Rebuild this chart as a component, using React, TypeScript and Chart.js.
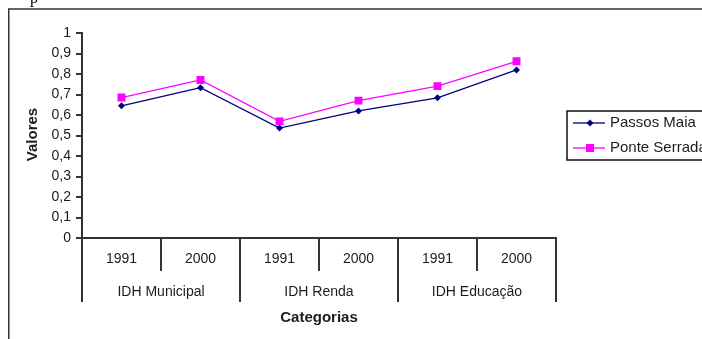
import React, { useEffect, useRef } from "react";
import { Chart, registerables } from "chart.js";

Chart.register(...registerables);

// Anos em cada categoria e os grupos de índice
const years = ["1991", "2000", "1991", "2000", "1991", "2000"];
const groups = ["IDH Municipal", "IDH Renda", "IDH Educação"];

// Valores do IDH por município
const passosMaia = [0.645, 0.733, 0.536, 0.62, 0.684, 0.82];
const ponteSerrada = [0.685, 0.771, 0.569, 0.67, 0.741, 0.862];

const seriesNames = ["Passos Maia", "Ponte Serrada"];
const yTitle = "Valores";
const xTitle = "Categorias";

const W = 760;
const H = 345;
const TEXT = "#1b1b24";
const AXIS = "#333333";
const FONT = '"Liberation Sans", Arial, sans-serif';

const fmtTick = (v: number) =>
  v === 0 || v === 1 ? String(v) : v.toFixed(1).replace(".", ",");

const decorations = {
  id: "decorations",
  afterDraw(chart: any) {
    const ctx: CanvasRenderingContext2D = chart.ctx;
    const xs = chart.scales.x;
    const { left, right, top, bottom } = chart.chartArea;
    const half = (xs.getPixelForValue(1) - xs.getPixelForValue(0)) / 2;
    ctx.save();

    // outer frame (top and left edges)
    ctx.strokeStyle = AXIS;
    ctx.lineWidth = 1.5;
    ctx.beginPath();
    ctx.moveTo(0.75, H);
    ctx.lineTo(0.75, 1);
    ctx.lineTo(W, 1);
    ctx.stroke();

    // category dividers below the axis
    ctx.lineWidth = 2;
    ctx.strokeStyle = AXIS;
    for (let i = 0; i <= years.length; i++) {
      const bx = Math.round(xs.getPixelForValue(i) - half);
      const isGroup = i % 2 === 0;
      ctx.beginPath();
      ctx.moveTo(bx, bottom);
      ctx.lineTo(bx, isGroup ? bottom + 64 : bottom + 33);
      ctx.stroke();
    }

    ctx.fillStyle = TEXT;
    ctx.textAlign = "center";
    ctx.textBaseline = "middle";
    ctx.font = `14px ${FONT}`;
    years.forEach((y, i) => {
      ctx.fillText(y, xs.getPixelForValue(i), bottom + 21);
    });
    groups.forEach((g, gi) => {
      const cx = (xs.getPixelForValue(gi * 2) + xs.getPixelForValue(gi * 2 + 1)) / 2;
      ctx.fillText(g, cx, bottom + 54);
    });

    // axis titles
    ctx.font = `bold 15px ${FONT}`;
    ctx.fillText(xTitle, (left + right) / 2, bottom + 80);
    ctx.save();
    ctx.translate(25, (top + bottom) / 2 - 1);
    ctx.rotate(-Math.PI / 2);
    ctx.fillText(yTitle, 0, 0);
    ctx.restore();

    // legend box
    const lx = 559;
    const ly = 103;
    ctx.strokeStyle = "#111111";
    ctx.lineWidth = 1.5;
    ctx.strokeRect(lx, ly, 300, 49);
    ctx.font = `15px ${FONT}`;
    ctx.textAlign = "left";
    chart.data.datasets.forEach((ds: any, i: number) => {
      const ry = ly + 12 + i * 25;
      ctx.strokeStyle = ds.borderColor;
      ctx.lineWidth = 1.3;
      ctx.beginPath();
      ctx.moveTo(lx + 6, ry);
      ctx.lineTo(lx + 38, ry);
      ctx.stroke();
      ctx.fillStyle = ds.pointBackgroundColor;
      ctx.beginPath();
      const mx = lx + 23;
      if (ds.pointStyle === "rectRot") {
        const r = 3.5;
        ctx.moveTo(mx - r, ry);
        ctx.lineTo(mx, ry - r);
        ctx.lineTo(mx + r, ry);
        ctx.lineTo(mx, ry + r);
        ctx.closePath();
      } else {
        ctx.rect(mx - 4, ry - 4, 8, 8);
      }
      ctx.fill();
      ctx.fillStyle = TEXT;
      ctx.fillText(ds.label, lx + 43, ry);
    });

    ctx.restore();
  },
};

export default function App() {
  const ref = useRef<HTMLCanvasElement | null>(null);

  useEffect(() => {
    if (!ref.current) return;
    const chart = new Chart(ref.current, {
      type: "line",
      data: {
        labels: years,
        datasets: [
          {
            label: seriesNames[0],
            data: passosMaia,
            borderColor: "#000080",
            backgroundColor: "#000080",
            pointBackgroundColor: "#000080",
            pointBorderColor: "#000080",
            pointStyle: "rectRot",
            pointRadius: 3.5,
            pointBorderWidth: 0,
            borderWidth: 1.3,
            tension: 0,
          },
          {
            label: seriesNames[1],
            data: ponteSerrada,
            borderColor: "#ff00ff",
            backgroundColor: "#ff00ff",
            pointBackgroundColor: "#ff00ff",
            pointBorderColor: "#ff00ff",
            pointStyle: "rect",
            pointRadius: 5.6,
            pointBorderWidth: 0,
            borderWidth: 1.3,
            tension: 0,
          },
        ],
      },
      options: {
        responsive: false,
        animation: false,
        events: [],
        layout: { padding: { left: 0, top: 25, right: W - 548, bottom: 15 } },
        plugins: {
          legend: { display: false },
          tooltip: { enabled: false },
          title: { display: false },
        },
        scales: {
          x: {
            type: "category",
            offset: true,
            grid: { display: false },
            ticks: { display: false },
            border: { display: true, color: AXIS, width: 2 },
            afterFit: (s: any) => {
              s.height = 100;
            },
          },
          y: {
            min: 0,
            max: 1,
            ticks: {
              stepSize: 0.1,
              padding: 5,
              color: TEXT,
              font: { family: FONT, size: 14 },
              callback: (v: any) => fmtTick(Number(v)),
            },
            grid: {
              drawOnChartArea: false,
              drawTicks: true,
              tickLength: 6,
              color: AXIS,
              lineWidth: 2,
            },
            border: { display: true, color: AXIS, width: 2 },
            afterFit: (s: any) => {
              s.width = 74;
            },
          },
        },
      },
      plugins: [decorations],
    });
    return () => chart.destroy();
  }, []);

  return (
    <>
      <span
        style={{
          position: "fixed",
          left: 30,
          top: -11,
          font: '16px "Liberation Serif", serif',
          lineHeight: "18px",
          color: "#000",
        }}
      >
        p
      </span>
      <div
        style={{
          position: "fixed",
          left: 8,
          top: 8,
          width: 694,
          height: 331,
          overflow: "hidden",
        }}
      >
        <canvas ref={ref} width={W} height={H} style={{ width: W, height: H, display: "block" }} />
      </div>
    </>
  );
}
